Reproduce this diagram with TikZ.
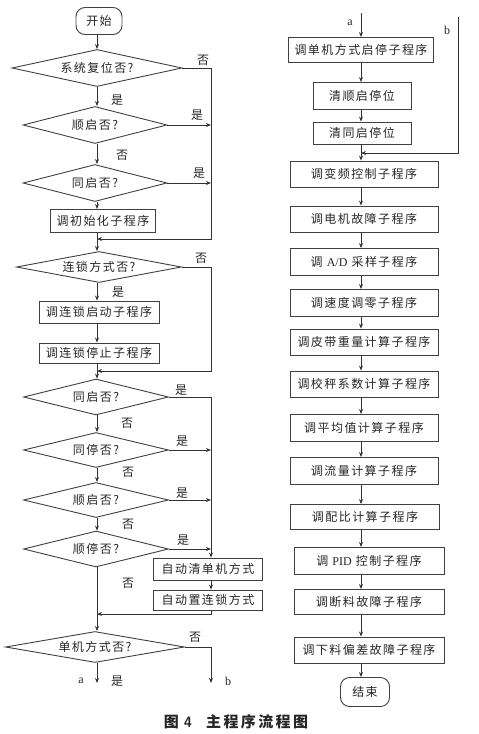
\documentclass[tikz,border=0pt]{standalone}
\usepackage{fontspec}
\setmainfont{Liberation Serif}
\newfontfamily\cjk[LetterSpace=12]{Noto Sans CJK SC}
\newfontfamily\cjkcap[LetterSpace=16]{Noto Sans CJK SC}
\usetikzlibrary{shapes.geometric,arrows.meta}
\begin{document}
\begin{tikzpicture}[x=1pt,y=-1pt,
  line/.style={draw=black!80, line width=0.9pt},
  arr/.style={line, -{Stealth[length=5pt,width=4pt]}},
  txt/.style={font=\cjk\fontsize{12}{14}\selectfont, text=black!85},
  proc/.style={txt, draw=black!75, line width=0.9pt, rectangle, inner sep=0pt},
  term/.style={proc, rounded corners=9pt},
  dec/.style={txt, draw=black!75, line width=0.9pt, diamond, aspect=6, inner sep=0pt},
  lab/.style={txt, inner sep=0pt},
]
\useasboundingbox (0,0) rectangle (479,734);
\coordinate (lx) at (97,0);
\coordinate (rx) at (211,0);
\coordinate (ax) at (361,0);

% ---------- left column ----------
\node[term, minimum width=46pt, minimum height=27pt] (start) at (99,21) {开始};
\node[dec, minimum width=170pt, minimum height=37pt] (d1) at (97,68) {系统复位否?};
\node[dec, minimum width=144pt, minimum height=37pt] (d2) at (95,125) {顺启否?};
\node[dec, minimum width=144pt, minimum height=37pt] (d3) at (95,183) {同启否?};
\node[proc, minimum width=105pt, minimum height=23pt] (r1) at (103,221) {调初始化子程序};
\coordinate (j1) at (97,239);
\node[dec, minimum width=165pt, minimum height=31pt] (d4) at (99,267) {连锁方式否?};
\node[proc, minimum width=120pt, minimum height=22pt] (r2) at (99,312) {调连锁启动子程序};
\node[proc, minimum width=120pt, minimum height=20pt] (r3) at (99,353) {调连锁停止子程序};
\coordinate (j2) at (97,371);
\node[dec, minimum width=145pt, minimum height=36pt] (d5) at (96,397) {同启否?};
\node[dec, minimum width=145pt, minimum height=35pt] (d6) at (96,450) {同停否?};
\node[dec, minimum width=145pt, minimum height=35pt] (d7) at (96,500) {顺启否?};
\node[dec, minimum width=145pt, minimum height=36pt] (d8) at (96,549) {顺停否?};
\node[proc, minimum width=109pt, minimum height=22pt] (r4) at (208,569) {自动清单机方式};
\node[proc, minimum width=109pt, minimum height=20pt] (r5) at (208,600) {自动置连锁方式};
\coordinate (j3) at (97,614);
\node[dec, minimum width=179pt, minimum height=31pt] (d9) at (95,647) {单机方式否?};
\coordinate (ea) at (97,683);
\coordinate (eb) at (211,683);

\draw[arr] (start.south -| lx) -- (d1.north -| lx);
\draw[arr] (d1.south -| lx) -- (d2.north -| lx);
\draw[arr] (d2.south -| lx) -- (d3.north -| lx);
\draw[arr] (d3.south -| lx) -- (r1.north -| lx);
\draw[arr] (r1.south -| lx) -- (d4.north -| lx);
\draw[arr] (d1.east) -- (d1.east -| rx) -- (j1 -| rx) -- (j1);
\draw[arr] (d2.east) -- (d2.east -| rx);
\draw[arr] (d3.east) -- (d3.east -| rx);
\draw[arr] (d4.south -| lx) -- (r2.north -| lx);
\draw[arr] (r2.south -| lx) -- (r3.north -| lx);
\draw[arr] (r3.south -| lx) -- (d5.north -| lx);
\draw[arr] (d4.east) -- (d4.east -| rx) -- (j2 -| rx) -- (j2);
\draw[arr] (d5.south -| lx) -- (d6.north -| lx);
\draw[arr] (d6.south -| lx) -- (d7.north -| lx);
\draw[arr] (d7.south -| lx) -- (d8.north -| lx);
\draw[arr] (d5.east) -- (d5.east -| rx) -- (r4.north -| rx);
\draw[arr] (d6.east) -- (d6.east -| rx);
\draw[arr] (d7.east) -- (d7.east -| rx);
\draw[arr] (d8.east) -- (d8.east -| rx);
\draw[arr] (r4.south -| rx) -- (r5.north -| rx);
\draw[arr] (r5.south -| rx) -- (j3 -| rx) -- (j3);
\draw[arr] (d8.south -| lx) -- (d9.north -| lx);
\draw[arr] (d9.south -| lx) -- (ea);
\draw[arr] (d9.east) -- (d9.east -| rx) -- (eb);

\node[lab] (l1) at (203,60) {否};
\node[lab] (l2) at (117,100) {是};
\node[lab] (l3) at (197,115) {是};
\node[lab] (l4) at (122,155) {否};
\node[lab] (l5) at (199,173) {是};
\node[lab] (l6) at (201,258) {否};
\node[lab] (l7) at (118,292) {是};
\node[lab] (l8) at (181,390) {是};
\node[lab] (l9) at (127,423) {否};
\node[lab] (l10) at (182,441) {是};
\node[lab] (l11) at (128,472) {否};
\node[lab] (l12) at (182,493) {是};
\node[lab] (l13) at (128,524) {否};
\node[lab] (l14) at (183,540) {是};
\node[lab] (l15) at (128,583) {否};
\node[lab] (l16) at (195,637) {否};
\node[lab, font=\rmfamily\fontsize{12}{14}\selectfont] (la) at (81,681) {a};
\node[lab] (l17) at (117,681) {是};
\node[lab, font=\rmfamily\fontsize{12}{14}\selectfont] (lb) at (228,681) {b};

% ---------- right column ----------
\coordinate (ta) at (361,13);
\coordinate (tb) at (458,17);
\coordinate (jb) at (361,153);
\node[proc, minimum width=145pt, minimum height=25pt] (R1) at (361,50) {调单机方式启停子程序};
\node[proc, minimum width=98pt, minimum height=27pt] (R2) at (362,96) {清顺启停位};
\node[proc, minimum width=98pt, minimum height=22pt] (R3) at (362,133) {清同启停位};
\node[proc, minimum width=148pt, minimum height=26pt] (R4) at (364,174) {调变频控制子程序};
\node[proc, minimum width=148pt, minimum height=26pt] (R5) at (364,219) {调电机故障子程序};
\node[proc, minimum width=148pt, minimum height=27pt] (R6) at (364,262) {调 {\rmfamily A/D} 采样子程序};
\node[proc, minimum width=148pt, minimum height=27pt] (R7) at (364,303) {调速度调零子程序};
\node[proc, minimum width=148pt, minimum height=26pt] (R8) at (364,342) {调皮带重量计算子程序};
\node[proc, minimum width=148pt, minimum height=26pt] (R9) at (364,384) {调校秤系数计算子程序};
\node[proc, minimum width=148pt, minimum height=27pt] (R10) at (364,428) {调平均值计算子程序};
\node[proc, minimum width=148pt, minimum height=27pt] (R11) at (364,471) {调流量计算子程序};
\node[proc, minimum width=149pt, minimum height=25pt] (R12) at (365,517) {调配比计算子程序};
\node[proc, minimum width=150pt, minimum height=27pt] (R13) at (369,561) {调 {\rmfamily PID} 控制子程序};
\node[proc, minimum width=150pt, minimum height=25pt] (R14) at (369,602) {调断料故障子程序};
\node[proc, minimum width=150pt, minimum height=26pt] (R15) at (369,650) {调下料偏差故障子程序};
\node[term, minimum width=49pt, minimum height=29pt] (E) at (365,692) {结束};

\draw[arr] (ta) -- (R1.north -| ax);
\draw[arr] (R1.south -| ax) -- (R2.north -| ax);
\draw[arr] (R2.south -| ax) -- (R3.north -| ax);
\draw[arr] (R3.south -| ax) -- (R4.north -| ax);
\draw[arr] (tb) -- (jb -| tb) -- (jb);
\draw[arr] (R4.south -| ax) -- (R5.north -| ax);
\draw[arr] (R5.south -| ax) -- (R6.north -| ax);
\draw[arr] (R6.south -| ax) -- (R7.north -| ax);
\draw[arr] (R7.south -| ax) -- (R8.north -| ax);
\draw[arr] (R8.south -| ax) -- (R9.north -| ax);
\draw[arr] (R9.south -| ax) -- (R10.north -| ax);
\draw[arr] (R10.south -| ax) -- (R11.north -| ax);
\draw[arr] (R11.south -| ax) -- (R12.north -| ax);
\draw[arr] (R12.south -| ax) -- (R13.north -| ax);
\draw[arr] (R13.south -| ax) -- (R14.north -| ax);
\draw[arr] (R14.south -| ax) -- (R15.north -| ax);
\draw[arr] (R15.south -| ax) -- (E.north -| ax);

\node[lab, font=\rmfamily\fontsize{12}{14}\selectfont] (lra) at (350,23) {a};
\node[lab, font=\rmfamily\fontsize{12}{14}\selectfont] (lrb) at (447,30) {b};

% ---------- caption ----------
\node[inner sep=0pt, font=\cjkcap\bfseries\fontsize{15}{17}\selectfont, text=black!85] (cap) at (236,722) {图\hspace{5pt}{\sffamily\bfseries 4}\hspace{14pt}主程序流程图};
\end{tikzpicture}
\end{document}
